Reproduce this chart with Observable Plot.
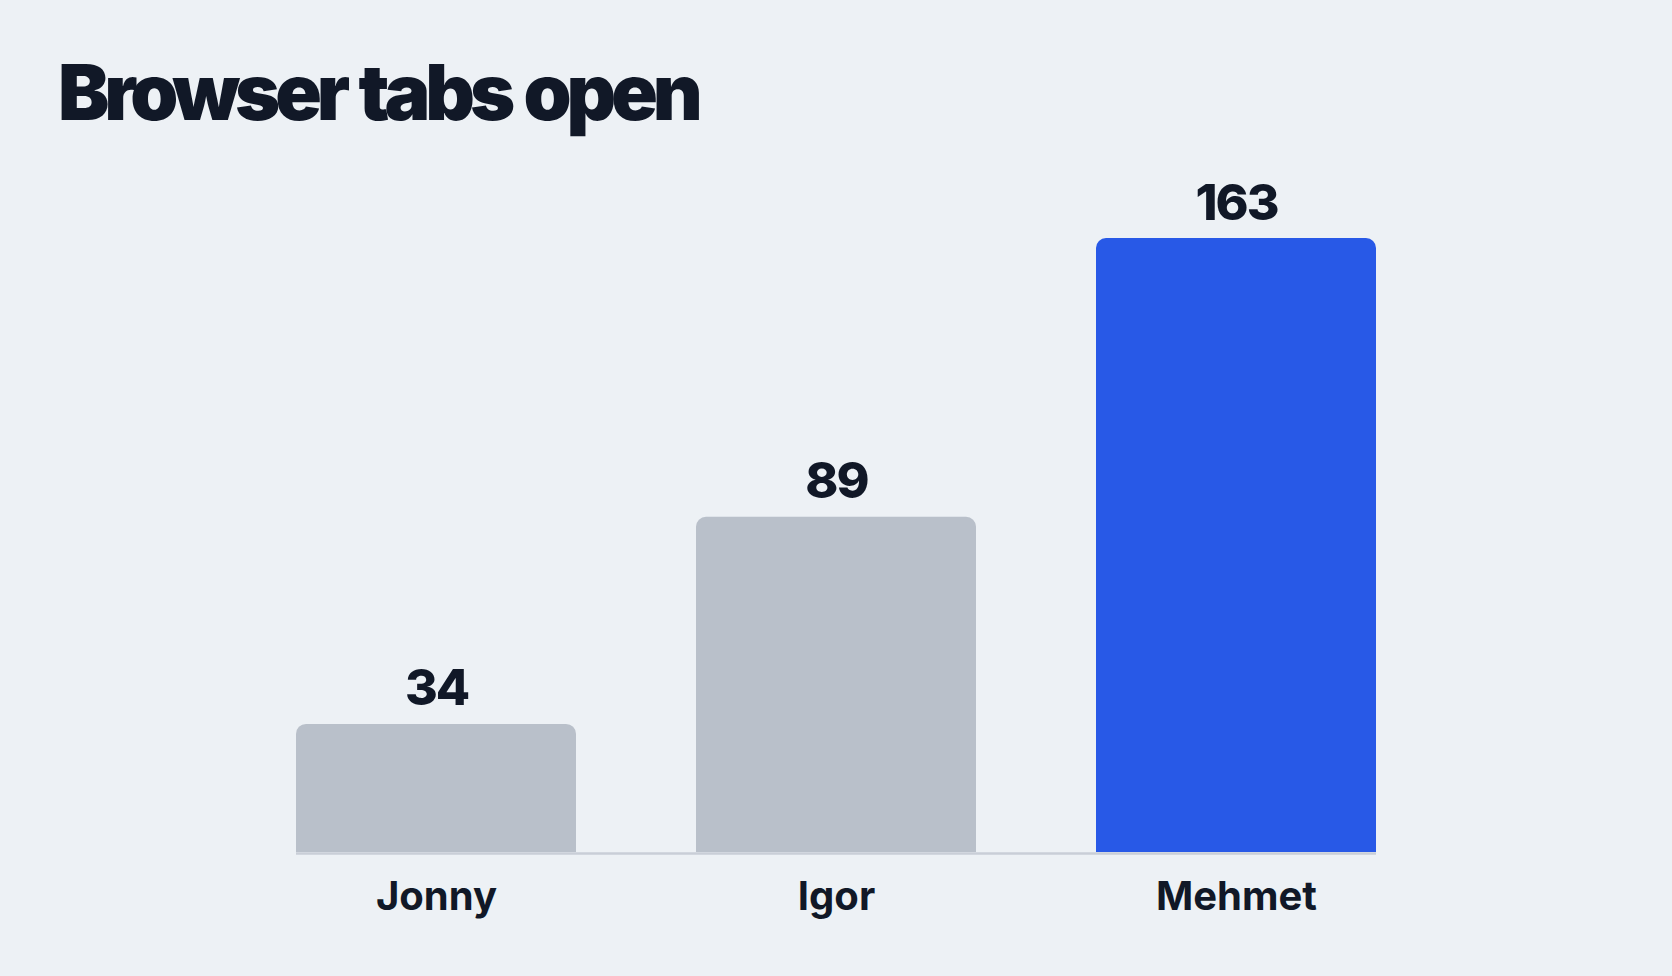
<!DOCTYPE html>
<html>
<head>
<meta charset="utf-8">
<script src="https://cdn.jsdelivr.net/npm/d3@7"></script>
<script src="https://cdn.jsdelivr.net/npm/@observablehq/plot@0.6"></script>
<style>
  html, body { margin: 0; padding: 0; background: #edf1f5; overflow: hidden; }
  body { width: 1672px; height: 976px; font-family: Inter, "Noto Sans", sans-serif; }
  #title { height: 150px; box-sizing: border-box; padding: 54px 0 0 58px; margin: 0;
    font-size: 77px; line-height: 1; font-weight: 900; letter-spacing: -0.066em; word-spacing: 0.04em; color: #111827; }
  #chart svg { display: block; }
  #chart g[aria-label="text"] text { letter-spacing: -0.04em; }
</style>
</head>
<body>
<h1 id="title">Browser tabs open</h1>
<div id="chart"></div>
<script>
const names = ["Jonny", "Igor", "Mehmet"];
const tabs = [34, 89, 163];
const highlight = "Mehmet";

const data = names.map((name, i) => ({name, tabs: tabs[i]}));

const chart = Plot.plot({
  width: 1672,
  height: 826,
  marginTop: 88,
  marginBottom: 124,
  marginLeft: 296,
  marginRight: 296,
  style: {background: "transparent", fontFamily: "Inter, 'Noto Sans', sans-serif", color: "#111827"},
  x: {domain: names, padding: 0.3, paddingOuter: 0, label: null},
  y: {domain: [0, 163], axis: null},
  marks: [
    Plot.barY(data, {
      x: "name", y: "tabs",
      fill: d => d.name === highlight ? "#2859e7" : "#b9c0ca",
      ry1: 10
    }),
    Plot.ruleY([0], {stroke: "#c9ced7", strokeWidth: 2.5, dy: 1}),
    Plot.text(data, {
      x: "name", y: "tabs", text: d => String(d.tabs),
      dy: -35, fontSize: 50, fontWeight: 800, fill: "#111827"
    }),
    Plot.axisX({tickSize: 0, tickPadding: 29, fontSize: 40, fontWeight: 700, fill: "#111827", label: null})
  ]
});
document.getElementById("chart").append(chart);
</script>
</body>
</html>
